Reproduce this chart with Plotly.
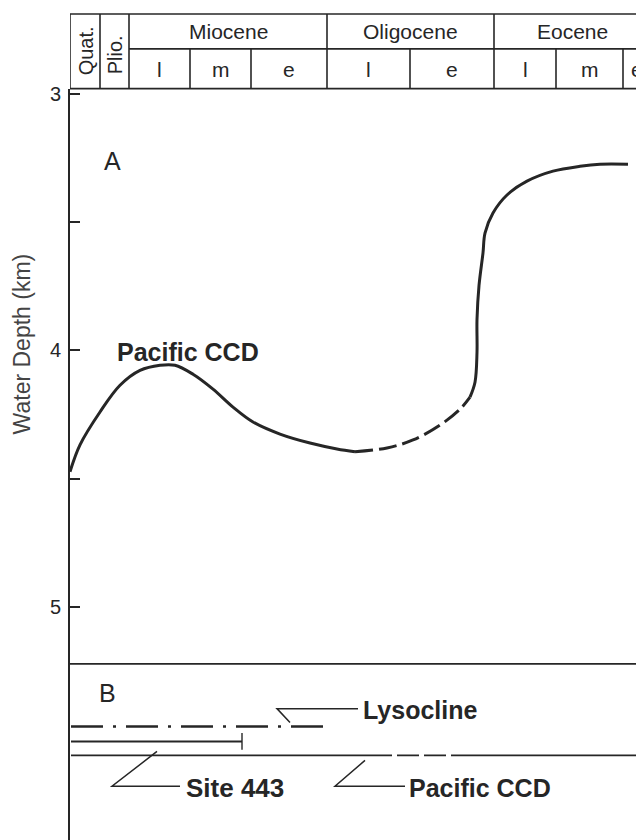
import plotly.graph_objects as go

# ---------------- data ----------------
# x = relative time position (schematic time axis, left = present)
# Panel A: Pacific CCD water depth (km)
ccd_solid1_x = [-1, 9, 29, 49, 69, 89, 104, 122, 142, 162, 182, 209, 239, 266, 284]
ccd_solid1_d = [4.473, 4.368, 4.240, 4.136, 4.078, 4.058, 4.058, 4.093, 4.151, 4.221,
                4.279, 4.326, 4.361, 4.384, 4.395]
ccd_dash_x = [284, 316, 342, 369, 389, 399]
ccd_dash_d = [4.395, 4.380, 4.349, 4.291, 4.229, 4.182]
ccd_solid2_x = [399, 404, 406, 406, 408, 412, 414, 422, 436, 456, 482, 509, 529, 557]
ccd_solid2_d = [4.182, 4.124, 4.008, 3.880, 3.748, 3.620, 3.543, 3.465, 3.395, 3.341,
                3.302, 3.283, 3.275, 3.275]

depth_ticks = [3, 3.5, 4, 4.5, 5]
depth_tick_text = ["3", "", "4", "", "5"]

# Time scale header
short_units = ["Quat.", "Plio."]
short_bounds = [0, 29, 58]
epochs = ["Miocene", "Oligocene", "Eocene"]
epoch_bounds = [58, 256, 423, 580]
subunits = ["l", "m", "e", "l", "e", "l", "m", "e"]
sub_bounds = [58, 119, 180, 256, 339, 423, 485, 552, 580]

# Panel B: schematic levels (relative)
lysocline_x = [0, 254]
lysocline_level = 63
site443_x = [0, 171]
site443_level = 78
pccd_b_solid1_x = [0, 299]
pccd_b_dash_x = [299, 402]
pccd_b_solid2_x = [402, 600]
pccd_b_level = 92

# ---------------- figure ----------------
INK = "#262626"
FONT = "Liberation Sans, Arial, sans-serif"

PAGE_OFF = 8            # page body margin in the browser
W, H = 644 - PAGE_OFF, 840 - PAGE_OFF
ML, MT = 70 - PAGE_OFF, 10 - PAGE_OFF
PH = H - MT
PW = W - ML


def py2paper(py):
    # py = screen pixel row
    return (840 - py) / PH


yA_dom = [py2paper(663), py2paper(85)]
yB_dom = [0, py2paper(663)]

fig = go.Figure()

line_style = dict(color=INK, width=3)
fig.add_trace(go.Scatter(x=ccd_solid1_x, y=ccd_solid1_d, mode="lines",
                         line=dict(**line_style, shape="spline"), yaxis="y", hoverinfo="skip"))
fig.add_trace(go.Scatter(x=ccd_dash_x, y=ccd_dash_d, mode="lines",
                         line=dict(**line_style, shape="spline", dash="18px,6px"), yaxis="y",
                         hoverinfo="skip"))
fig.add_trace(go.Scatter(x=ccd_solid2_x, y=ccd_solid2_d, mode="lines",
                         line=dict(**line_style, shape="spline"), yaxis="y", hoverinfo="skip"))

# Panel B
fig.add_trace(go.Scatter(x=lysocline_x, y=[lysocline_level] * 2, mode="lines",
                         line=dict(color=INK, width=2.5, dash="32px,10px,3px,10px"),
                         yaxis="y2", hoverinfo="skip"))
fig.add_trace(go.Scatter(x=site443_x, y=[site443_level] * 2, mode="lines+markers",
                         line=dict(color=INK, width=2),
                         marker=dict(symbol="line-ns-open", size=[0, 12],
                                     line=dict(color=INK, width=2)),
                         yaxis="y2", hoverinfo="skip"))
for xs, dash in [(pccd_b_solid1_x, "solid"), (pccd_b_dash_x, "22px,5px"),
                 (pccd_b_solid2_x, "solid")]:
    fig.add_trace(go.Scatter(x=xs, y=[pccd_b_level] * 2, mode="lines",
                             line=dict(color=INK, width=1.6, dash=dash),
                             yaxis="y2", hoverinfo="skip"))

shapes = []
hl = dict(color=INK, width=1.6)
# header horizontal lines
shapes.append(dict(type="line", xref="x", yref="paper", x0=-1, x1=600,
                   y0=py2paper(10), y1=py2paper(10), line=hl))
shapes.append(dict(type="line", xref="x", yref="paper", x0=short_bounds[-1], x1=600,
                   y0=py2paper(45), y1=py2paper(45), line=hl))
shapes.append(dict(type="line", xref="x", yref="paper", x0=-1, x1=600,
                   y0=py2paper(85), y1=py2paper(85), line=hl))
# header verticals
for b in [-1] + short_bounds[1:] + epoch_bounds[1:]:
    shapes.append(dict(type="line", xref="x", yref="paper", x0=b, x1=b,
                       y0=py2paper(85), y1=py2paper(10), line=hl))
for b in sub_bounds[1:-1]:
    if b in epoch_bounds:
        continue
    shapes.append(dict(type="line", xref="x", yref="paper", x0=b, x1=b,
                       y0=py2paper(85), y1=py2paper(45), line=hl))
# A/B separator
shapes.append(dict(type="line", xref="x", yref="paper", x0=-1, x1=600,
                   y0=py2paper(663), y1=py2paper(663), line=hl))
# leaders in panel B
ld = dict(color=INK, width=1.5)
shapes.append(dict(type="path", xref="x", yref="y2",
                   path="M 219 59 L 206 45 L 287 45", line=ld))
shapes.append(dict(type="path", xref="x", yref="y2",
                   path="M 86 88 L 41 123 L 109 123", line=ld))
shapes.append(dict(type="path", xref="x", yref="y2",
                   path="M 294 97 L 264 123 L 334 123", line=ld))

ann = []
hf = dict(family=FONT, size=21, color=INK)
for i, name in enumerate(epochs):
    ann.append(dict(x=(epoch_bounds[i] + epoch_bounds[i + 1]) / 2, y=py2paper(28),
                    xref="x", yref="paper", text=name, showarrow=False, font=hf,
                    xanchor="center", yanchor="middle"))
for i, name in enumerate(subunits):
    ann.append(dict(x=(sub_bounds[i] + sub_bounds[i + 1]) / 2, y=py2paper(66),
                    xref="x", yref="paper", text=name, showarrow=False, font=hf,
                    xanchor="center", yanchor="middle"))
for i, (name, pyc) in enumerate(zip(short_units, [47, 51])):
    ann.append(dict(x=(short_bounds[i] + short_bounds[i + 1]) / 2, y=py2paper(pyc),
                    xref="x", yref="paper", text=name, showarrow=False,
                    font=dict(family=FONT, size=20, color=INK),
                    textangle=-90, xanchor="center", yanchor="middle"))

big = dict(family=FONT, size=25, color=INK)
ann.append(dict(x=41, y=3.264, xref="x", yref="y", text="A", showarrow=False, font=big))
lab = dict(family=FONT, size=25, color=INK)
ann.append(dict(x=117, y=4.008, xref="x", yref="y", text="<b>Pacific CCD</b>",
                showarrow=False, font=lab))
ann.append(dict(x=36, y=29, xref="x", yref="y2", text="B", showarrow=False, font=big))
ann.append(dict(x=290, y=46, xref="x", yref="y2", text="<b>Lysocline</b>", showarrow=False,
                font=lab, xanchor="left", yanchor="middle"))
ann.append(dict(x=113, y=125, xref="x", yref="y2", text="<b>Site 443</b>", showarrow=False,
                font=dict(family=FONT, size=26, color=INK), xanchor="left", yanchor="middle"))
ann.append(dict(x=336, y=125, xref="x", yref="y2", text="<b>Pacific CCD</b>", showarrow=False,
                font=lab, xanchor="left", yanchor="middle"))
ann.append(dict(x=(22 - 70) / PW, y=py2paper(342), xref="paper", yref="paper",
                text="Water Depth (km)", showarrow=False, textangle=-90,
                font=dict(family=FONT, size=23, color="#444444"),
                xanchor="center", yanchor="middle"))

fig.update_layout(
    width=W, height=H,
    margin=dict(l=ML, r=0, t=MT, b=0),
    paper_bgcolor="white", plot_bgcolor="white",
    showlegend=False,
    font=dict(family=FONT, color=INK),
    xaxis=dict(range=[-1, PW - 1], visible=False, anchor="y2"),
    yaxis=dict(domain=yA_dom, range=[3 + 573 / 258, 3 - 5 / 258], anchor="x",
               showline=True, linecolor=INK, linewidth=2, mirror=False,
               ticks="inside", ticklen=10, tickwidth=1.6, tickcolor=INK,
               tickvals=depth_ticks, ticktext=depth_tick_text,
               tickfont=dict(family=FONT, size=20, color=INK),
               ticklabelstandoff=3, showgrid=False, zeroline=False),
    yaxis2=dict(domain=yB_dom, range=[177, 0], anchor="x",
                showline=True, linecolor=INK, linewidth=2,
                showticklabels=False, ticks="", showgrid=False, zeroline=False),
    shapes=shapes,
    annotations=ann,
)

fig.write_html("out.html")
